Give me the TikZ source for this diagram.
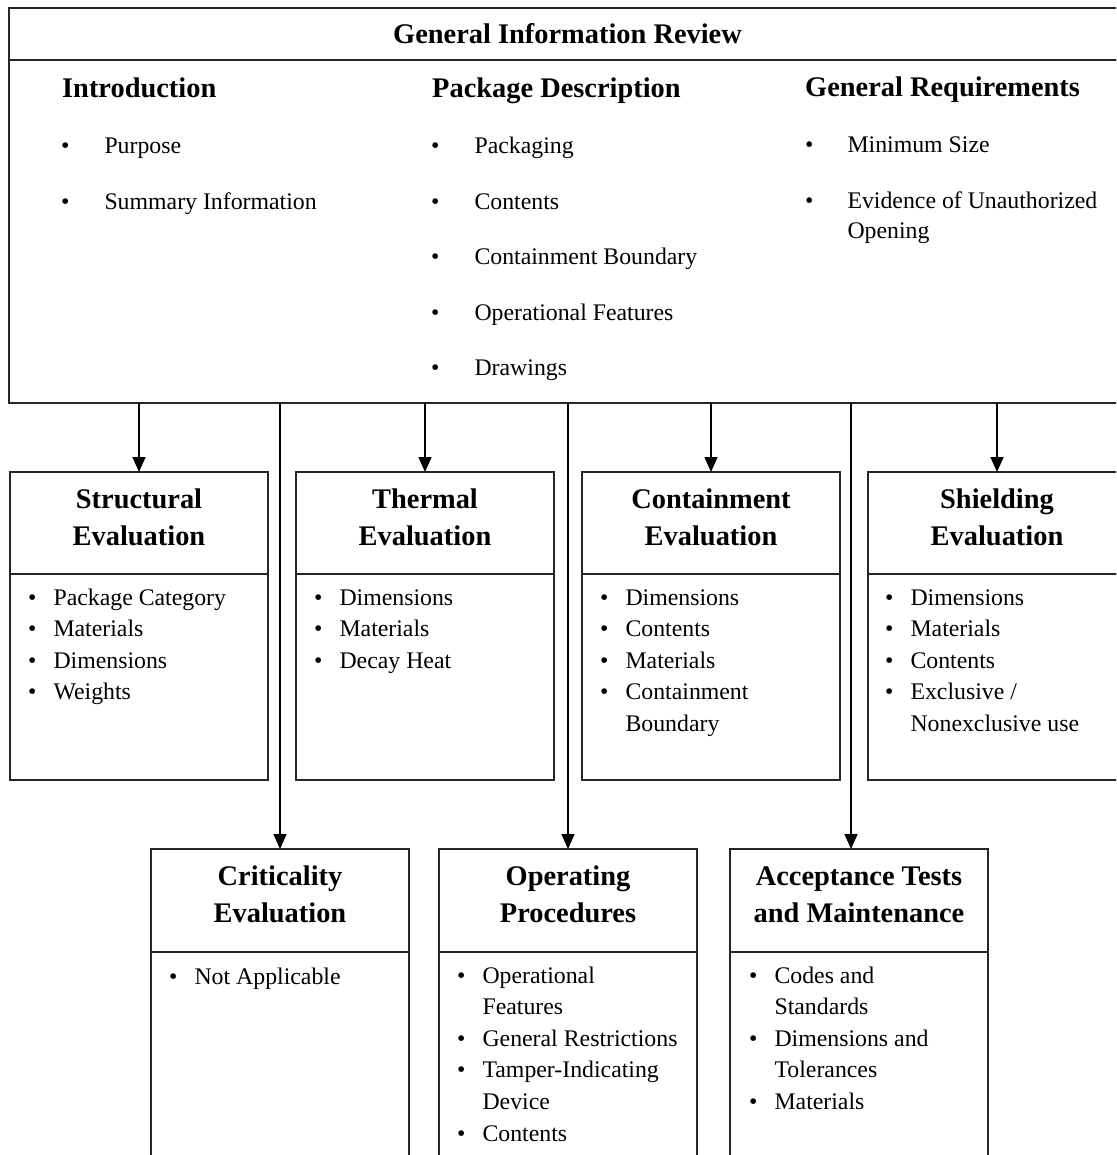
\documentclass[tikz,border=0pt]{standalone}
\usepackage{fontspec}
\setmainfont{Liberation Serif}
\usetikzlibrary{arrows.meta}

\tikzset{
  box/.style={draw=black!85, line width=1.5pt, outer sep=0pt, inner sep=0pt},
  head/.style={box, minimum width=258pt, align=center, text depth=12pt,
    font=\fontsize{28.4}{37}\selectfont\bfseries},
  body/.style={box, minimum width=258pt, anchor=north},
  topic/.style={inner sep=0pt, anchor=base west, font=\fontsize{28.4}{34}\selectfont\bfseries},
  items/.style={inner sep=0pt, anchor=base west, font=\fontsize{23.8}{31.6}\selectfont},
  topitems/.style={items, font=\fontsize{23.8}{30}\selectfont},
  arr/.style={line width=1.6pt, -{Triangle[length=15pt,width=13pt]}},
}

\begin{document}
\begin{tikzpicture}[x=1pt, y=-1pt]
        \clip (0,0) rectangle (1116,1155);

        % Top box
        \node[box, anchor=north west, minimum width=1117pt, minimum height=52pt,
              font=\fontsize{28.4}{34}\selectfont\bfseries] (girtitle) at (9,8) {General Information Review};
        \node[box, anchor=north west, minimum width=1117pt, minimum height=343pt] (girbody) at (girtitle.south west) {};

        \node[topic] (intro) at (62,98) {Introduction};
        \node[topic] (pkgdesc) at (432,98) {Package Description};
        \node[topic] (genreq) at (805,97) {General Requirements};

        \node[topitems] (introlist) at (61,154) {\begin{tabular}[t]{@{}l@{\hspace{35pt}}l@{}}
            \textbullet & Purpose\\[25.5pt]
            \textbullet & Summary Information
        \end{tabular}};
        \node[topitems] (pkglist) at (431,154) {\begin{tabular}[t]{@{}l@{\hspace{35pt}}l@{}}
            \textbullet & Packaging\\[25.5pt]
            \textbullet & Contents\\[25.5pt]
            \textbullet & Containment Boundary\\[25.5pt]
            \textbullet & Operational Features\\[25.5pt]
            \textbullet & Drawings
        \end{tabular}};
        \node[topitems] (reqlist) at (805,153) {\begin{tabular}[t]{@{}l@{\hspace{34pt}}l@{}}
            \textbullet & Minimum Size\\[25.5pt]
            \textbullet & Evidence of Unauthorized\\
                        & Opening
        \end{tabular}};

        % Evaluation boxes
        \node[head, minimum height=102pt] (structhead) at (139,523) {Structural\\Evaluation};
        \node[body, minimum height=206pt] (structbody) at (structhead.south) {};
        \node[head, minimum height=102pt] (thermhead) at (425,523) {Thermal\\Evaluation};
        \node[body, minimum height=206pt] (thermbody) at (thermhead.south) {};
        \node[head, minimum height=102pt] (conthead) at (711,523) {Containment\\Evaluation};
        \node[body, minimum height=206pt] (contbody) at (conthead.south) {};
        \node[head, minimum height=102pt] (shieldhead) at (997,523) {Shielding\\Evaluation};
        \node[body, minimum height=206pt] (shieldbody) at (shieldhead.south) {};

        \node[items] at (28,605) {\begin{tabular}[t]{@{}l@{\hspace{17pt}}l@{}}
            \textbullet & Package Category\\
            \textbullet & Materials\\
            \textbullet & Dimensions\\
            \textbullet & Weights
        \end{tabular}};
        \node[items] at (314,605) {\begin{tabular}[t]{@{}l@{\hspace{17pt}}l@{}}
            \textbullet & Dimensions\\
            \textbullet & Materials\\
            \textbullet & Decay Heat
        \end{tabular}};
        \node[items] at (600,605) {\begin{tabular}[t]{@{}l@{\hspace{17pt}}l@{}}
            \textbullet & Dimensions\\
            \textbullet & Contents\\
            \textbullet & Materials\\
            \textbullet & Containment\\
                        & Boundary
        \end{tabular}};
        \node[items] at (885,605) {\begin{tabular}[t]{@{}l@{\hspace{17pt}}l@{}}
            \textbullet & Dimensions\\
            \textbullet & Materials\\
            \textbullet & Contents\\
            \textbullet & Exclusive /\\
                        & Nonexclusive use
        \end{tabular}};

        % Lower row
        \node[head, minimum height=103pt] (crithead) at (280,900.5) {Criticality\\Evaluation};
        \node[body, minimum height=260pt] (critbody) at (crithead.south) {};
        \node[head, minimum height=103pt] (ophead) at (568,900.5) {Operating\\Procedures};
        \node[body, minimum height=260pt] (opbody) at (ophead.south) {};
        \node[head, minimum height=103pt] (accepthead) at (859,900.5) {Acceptance Tests\\and Maintenance};
        \node[body, minimum height=260pt] (acceptbody) at (accepthead.south) {};

        \node[items] at (169,984) {\begin{tabular}[t]{@{}l@{\hspace{17pt}}l@{}}
            \textbullet & Not Applicable
        \end{tabular}};
        \node[items] at (457,983) {\begin{tabular}[t]{@{}l@{\hspace{17pt}}l@{}}
            \textbullet & Operational\\
                        & Features\\
            \textbullet & General Restrictions\\
            \textbullet & Tamper-Indicating\\
                        & Device\\
            \textbullet & Contents
        \end{tabular}};
        \node[items] at (749,983) {\begin{tabular}[t]{@{}l@{\hspace{17pt}}l@{}}
            \textbullet & Codes and\\
                        & Standards\\
            \textbullet & Dimensions and\\
                        & Tolerances\\
            \textbullet & Materials
        \end{tabular}};

        % Arrows from the review box
        \draw[arr] (structhead.north |- girbody.south) -- (structhead.north);
        \draw[arr] (thermhead.north |- girbody.south) -- (thermhead.north);
        \draw[arr] (conthead.north |- girbody.south) -- (conthead.north);
        \draw[arr] (shieldhead.north |- girbody.south) -- (shieldhead.north);
        \draw[arr] (crithead.north |- girbody.south) -- (crithead.north);
        \draw[arr] (ophead.north |- girbody.south) -- (ophead.north);
        \draw[arr] ([xshift=-8pt]accepthead.north |- girbody.south) -- ([xshift=-8pt]accepthead.north);
\end{tikzpicture}
\end{document}
